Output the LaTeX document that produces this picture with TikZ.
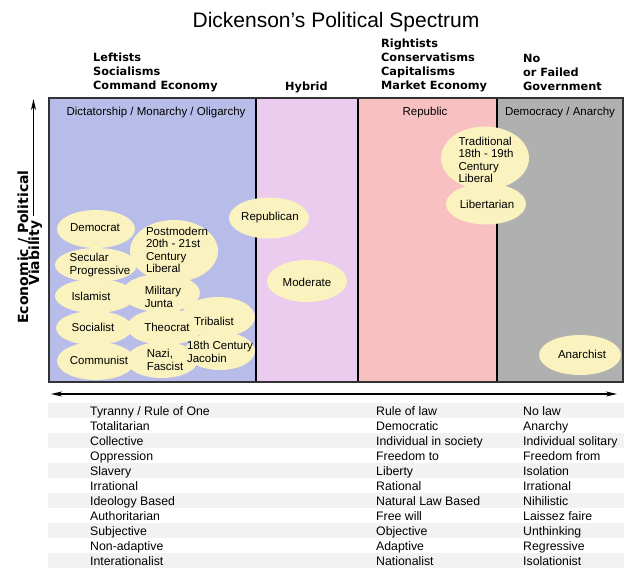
\documentclass[tikz,border=0pt]{standalone}
\usepackage{fontspec}
\setmainfont{Liberation Sans}
\newfontfamily\dvfont{DejaVu Sans}
\usetikzlibrary{arrows.meta,shapes.geometric}
\definecolor{leftc}{HTML}{B7BCE8}
\definecolor{hybc}{HTML}{EBCBEE}
\definecolor{repc}{HTML}{F8C0C1}
\definecolor{grayc}{HTML}{B0B0B0}
\definecolor{blobc}{HTML}{FAF3C0}
\definecolor{framec}{HTML}{333333}
\definecolor{rowc}{HTML}{F2F2F2}
\begin{document}
\begin{tikzpicture}[x=1pt,y=-1pt,
  blob/.style n args={2}{ellipse,fill=blobc,inner sep=0pt,minimum width=#1pt,minimum height=#2pt},
  lbl/.style={font=\fontsize{11.5}{12.5}\selectfont,align=left,inner sep=0pt},
  collbl/.style={font=\fontsize{11.5}{13}\selectfont,inner sep=0pt,anchor=base},
  hdr/.style={font=\dvfont\bfseries\fontsize{11.3}{14}\selectfont,inner sep=0pt,anchor=base west},
  axlbl/.style={font=\dvfont\bfseries\fontsize{14}{14}\selectfont,inner sep=0pt,anchor=base,rotate=90},
  cell/.style={font=\fontsize{12.3}{15}\selectfont,inner sep=0pt,anchor=base west},
  axarrow/.style={line width=1.2pt,black},
  tipS/.tip={Stealth[length=11pt,width=5pt,inset=3pt]},
]
\useasboundingbox (0,0) rectangle (640,576);
\fill[white] (0,0) rectangle (640,576);

% title
\node[font=\fontsize{21}{24}\selectfont,inner sep=0pt,anchor=base] (title) at (336,27.5) {Dickenson’s Political Spectrum};

% headers
\node[hdr] (hl1) at (93,61) {Leftists};
\node[hdr] (hl2) at (93,75) {Socialisms};
\node[hdr] (hl3) at (93,89) {Command Economy};
\node[hdr] (hh1) at (285,90) {Hybrid};
\node[hdr] (hr1) at (381,47) {Rightists};
\node[hdr] (hr2) at (381,61) {Conservatisms};
\node[hdr] (hr3) at (381,75) {Capitalisms};
\node[hdr] (hr4) at (381,89) {Market Economy};
\node[hdr] (hn1) at (523,62) {No};
\node[hdr] (hn2) at (523,76) {or Failed};
\node[hdr] (hn3) at (523,90) {Government};

% regions
\fill[leftc] (49,98) rectangle (256,382);
\fill[hybc] (256,98) rectangle (358,382);
\fill[repc] (358,98) rectangle (497,382);
\fill[grayc] (497,98) rectangle (623,382);
\draw[line width=1.2pt,black] (256,98) -- (256,382);
\draw[line width=1.2pt,black] (358,98) -- (358,382);
\draw[line width=1.2pt,black] (497,98) -- (497,382);

% column labels
\node[collbl] (c1) at (156,115) {Dictatorship / Monarchy / Oligarchy};
\node[collbl] (c3) at (425,115) {Republic};
\node[collbl] (c4) at (560,115) {Democracy / Anarchy};

% ellipses
\node[blob={78}{38}] (dem) at (96,229) {};
\node[blob={82}{34}] (sec) at (96,265) {};
\node[blob={88}{62}] (pom) at (174,251) {};
\node[blob={80}{34}] (isl) at (95,296) {};
\node[blob={78}{38}] (mil) at (161,293) {};
\node[blob={74}{40}] (tri) at (218,317) {};
\node[blob={76}{34}] (soc) at (94,328) {};
\node[blob={76}{36}] (the) at (165,327) {};
\node[blob={70}{38}] (jac) at (220,351) {};
\node[blob={78}{38}] (com) at (96,361) {};
\node[blob={72}{36}] (naz) at (162,360) {};
\node[blob={80}{41}] (rep) at (269,218) {};
\node[blob={80}{42}] (mod) at (307,281) {};
\node[blob={88}{63}] (tra) at (485,158) {};
\node[blob={80}{41}] (lib) at (486,204) {};
\node[blob={82}{40}] (ana) at (580,355) {};

% ellipse labels
\node[lbl] (demT) at (95,228) {Democrat};
\node[lbl] (secT) at (100,265) {Secular\\Progressive};
\node[lbl] (pomT) at (177,250) {Postmodern\\20th - 21st\\Century\\Liberal};
\node[lbl] (islT) at (91,296) {Islamist};
\node[lbl] (milT) at (163,297) {Military\\Junta};
\node[lbl] (triT) at (214,321) {Tribalist};
\node[lbl] (socT) at (93,327) {Socialist};
\node[lbl] (theT) at (167,327) {Theocrat};
\node[lbl] (jacT) at (220,352) {18th Century\\Jacobin};
\node[lbl] (comT) at (99,360) {Communist};
\node[lbl] (nazT) at (165,360) {Nazi,\\Fascist};
\node[lbl] (repT) at (270,218) {Republican};
\node[lbl] (modT) at (307,282) {Moderate};
\node[lbl] (traT) at (486,160) {Traditional\\18th - 19th\\Century\\Liberal};
\node[lbl] (libT) at (487,204) {Libertarian};
\node[lbl] (anaT) at (582,354) {Anarchist};

% frame
\draw[line width=2.5pt,framec] (49,98) rectangle (623,382);

% vertical axis
\node[axlbl] (ax1) at (28,247) {Economic / Political};
\node[axlbl] (ax2) at (39,253) {Viability};
\coordinate (vB) at (33.5,216);
\coordinate (vT) at (33.5,99);
\draw[axarrow,-tipS] (vB) -- (vT);

% horizontal axis
\coordinate (hL) at (51,394);
\coordinate (hR) at (617,394);
\draw[axarrow,tipS-tipS] (hL) -- (hR);

% table
\foreach \i in {0,2,4,6,8,10}{
  \fill[rowc] (48,403+15*\i) rectangle (624,418+15*\i);
}
\foreach \a/\b/\c [count=\i from 0] in {
  {Tyranny / Rule of One}/{Rule of law}/{No law},
  {Totalitarian}/{Democratic}/{Anarchy},
  {Collective}/{Individual in society}/{Individual solitary},
  {Oppression}/{Freedom to}/{Freedom from},
  {Slavery}/{Liberty}/{Isolation},
  {Irrational}/{Rational}/{Irrational},
  {Ideology Based}/{Natural Law Based}/{Nihilistic},
  {Authoritarian}/{Free will}/{Laissez faire},
  {Subjective}/{Objective}/{Unthinking},
  {Non-adaptive}/{Adaptive}/{Regressive},
  {Interationalist}/{Nationalist}/{Isolationist}}{
  \node[cell] (tl\i) at (90,415+15*\i) {\a};
  \node[cell] (tm\i) at (376,415+15*\i) {\b};
  \node[cell] (tr\i) at (523,415+15*\i) {\c};
}
\end{tikzpicture}
\end{document}
